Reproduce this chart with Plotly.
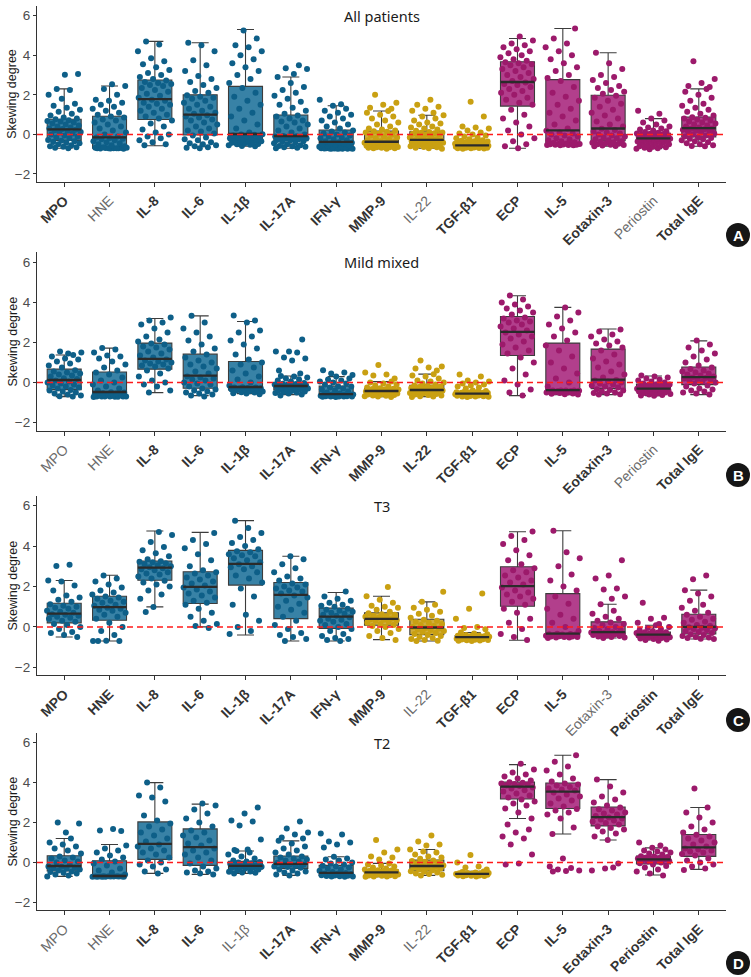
import plotly.graph_objects as go

CATS = ["MPO", "HNE", "IL-8", "IL-6", "IL-1β", "IL-17A", "IFN-γ", "MMP-9",
        "IL-22", "TGF-β1", "ECP", "IL-5", "Eotaxin-3", "Periostin", "Total IgE"]
GROUP = ["blue"] * 7 + ["gold"] * 3 + ["magenta"] * 5
PANEL_TITLES = ["All patients", "Mild mixed", "T3", "T2"]
PANEL_LETTERS = ["A", "B", "C", "D"]

BOLD_A = [1, 0, 1, 1, 1, 1, 1, 1, 0, 1, 1, 1, 1, 0, 1]
BOLD_B = [0, 0, 1, 1, 1, 1, 1, 1, 1, 1, 1, 1, 1, 0, 1]
BOLD_C = [1, 1, 1, 1, 1, 1, 1, 1, 0, 1, 1, 1, 0, 1, 1]
BOLD_D = [0, 0, 1, 1, 0, 1, 1, 1, 0, 1, 1, 1, 1, 1, 1]

# ---- box statistics ----
Q1_A = [-0.3, -0.7, 0.75, -0.03, -0.32, -0.32, -0.72, -0.58, -0.45, -0.62, 1.43, -0.45, -0.32, -0.42, -0.13]
MED_A = [0.25, -0.15, 1.78, 1.0, 0.02, -0.08, -0.38, -0.37, -0.28, -0.55, 2.65, 0.2, 0.3, -0.2, 0.32]
Q3_A = [0.77, 0.92, 2.75, 2.0, 2.43, 0.98, 0.22, 0.17, 0.13, -0.45, 3.67, 2.77, 1.98, 0.05, 0.88]
LO_A = [-0.7, -0.7, -0.57, -0.62, -0.6, -0.7, -0.72, -0.72, -0.7, -0.72, -0.7, -0.55, -0.6, -0.72, -0.6]
HI_A = [2.3, 2.45, 4.7, 4.63, 5.3, 2.9, 1.45, 1.18, 0.97, -0.3, 4.85, 5.35, 4.13, 0.8, 2.3]

Q1_B = [-0.35, -0.68, 0.67, -0.28, -0.37, -0.37, -0.67, -0.57, -0.5, -0.63, 1.35, -0.45, -0.3, -0.45, -0.1]
MED_B = [0.13, -0.47, 1.18, 0.35, -0.22, -0.17, -0.58, -0.42, -0.37, -0.55, 2.53, -0.38, 0.15, -0.3, 0.27]
Q3_B = [0.67, 0.53, 1.97, 1.42, 1.05, -0.05, -0.17, -0.3, -0.13, -0.5, 3.3, 1.97, 1.67, -0.07, 0.78]
LO_B = [-0.7, -0.72, -0.5, -0.65, -0.55, -0.6, -0.72, -0.7, -0.7, -0.72, -0.65, -0.6, -0.6, -0.65, -0.6]
HI_B = [1.38, 1.72, 3.2, 3.33, 3.05, 0.33, 0.3, 0.05, 0.42, -0.4, 4.33, 3.75, 2.67, 0.33, 2.08]

Q1_C = [0.2, 0.33, 2.31, 1.16, 2.07, 0.41, -0.07, 0.08, -0.38, -0.6, 1.02, -0.45, -0.36, -0.5, -0.35]
MED_C = [0.66, 0.98, 2.93, 1.98, 3.12, 1.59, 0.51, 0.4, -0.03, -0.51, 2.02, -0.33, -0.26, -0.38, 0.0]
Q3_C = [1.17, 1.52, 3.26, 2.73, 3.79, 2.2, 0.93, 0.7, 0.38, -0.43, 2.98, 1.65, 0.25, -0.25, 0.63]
LO_C = [-0.5, -0.7, 0.99, 0.0, -0.4, -0.7, -0.7, -0.63, -0.7, -0.7, -0.66, -0.55, -0.55, -0.65, -0.6]
HI_C = [2.3, 2.56, 4.75, 4.68, 5.26, 3.5, 1.7, 1.52, 1.24, -0.28, 4.71, 4.76, 1.12, 0.08, 1.82]

Q1_D = [-0.43, -0.72, 0.15, -0.15, -0.33, -0.3, -0.65, -0.63, -0.42, -0.63, 3.18, 2.7, 1.83, -0.08, 0.3]
MED_D = [-0.18, -0.68, 0.93, 0.77, -0.17, -0.07, -0.52, -0.5, -0.18, -0.57, 3.8, 3.55, 2.27, 0.15, 0.75]
Q3_D = [0.33, 0.08, 2.03, 1.68, 0.05, 0.32, -0.15, -0.38, 0.12, -0.52, 4.03, 3.98, 2.78, 0.32, 1.4]
LO_D = [-0.7, -0.72, -0.55, -0.6, -0.55, -0.65, -0.72, -0.72, -0.65, -0.7, 2.2, 1.42, 1.12, -0.63, -0.35]
HI_D = [1.2, 0.9, 4.0, 2.92, 0.57, 1.08, 0.28, -0.05, 0.65, -0.45, 4.9, 5.37, 4.15, 0.73, 2.75]

# ---- individual (jittered) points, one string per category ----
PTS_A = [
    "-0.7 -0.68 -0.65 -0.62 -0.6 -0.55 -0.5 -0.45 -0.42 -0.38 -0.35 -0.32 -0.28 -0.2 -0.15 -0.1 -0.05 0.0 0.05 0.1 0.12 0.18 0.2 0.24 0.27 0.3 0.35 0.4 0.45 0.5 0.55 0.6 0.65 0.68 0.72 0.76 0.8 0.85 0.95 1.05 1.15 1.25 1.35 1.45 1.55 1.8 2.0 2.25 2.3 3.05 3.02",
    "-0.72 -0.71 -0.7 -0.7 -0.69 -0.68 -0.7 -0.71 -0.69 -0.7 -0.68 -0.7 -0.65 -0.6 -0.55 -0.5 -0.45 -0.4 -0.35 -0.3 -0.25 -0.22 -0.18 -0.16 -0.1 0.0 0.1 0.2 0.3 0.4 0.5 0.6 0.7 0.75 0.85 0.9 1.0 1.1 1.2 1.3 1.4 1.5 1.6 1.7 1.75 2.0 2.3 2.45 2.53",
    "-0.55 -0.5 -0.4 -0.3 -0.2 -0.1 0.0 0.1 0.25 0.4 0.55 0.7 0.8 0.9 1.0 1.1 1.2 1.3 1.4 1.5 1.55 1.6 1.7 1.75 1.85 1.95 2.05 2.15 2.25 2.35 2.45 2.5 2.55 2.6 2.65 2.72 2.8 2.9 3.0 3.1 3.25 3.4 3.55 3.7 3.85 4.2 4.55 4.7",
    "-0.7 -0.68 -0.65 -0.6 -0.55 -0.5 -0.45 -0.4 -0.3 -0.25 -0.15 -0.05 0.05 0.15 0.2 0.3 0.4 0.5 0.6 0.7 0.75 0.85 0.9 0.97 1.05 1.1 1.2 1.3 1.4 1.5 1.6 1.7 1.8 1.85 1.9 1.98 2.1 2.2 2.35 2.5 2.65 2.8 2.95 3.2 3.5 3.75 4.2 4.5 4.63",
    "-0.6 -0.58 -0.55 -0.52 -0.5 -0.48 -0.45 -0.42 -0.4 -0.38 -0.35 -0.33 -0.3 -0.28 -0.25 -0.2 -0.18 -0.15 -0.12 -0.1 -0.05 -0.02 0.0 0.01 0.1 0.3 0.5 0.7 0.9 1.1 1.3 1.5 1.7 1.9 2.1 2.35 2.6 2.8 3.0 3.2 3.4 3.6 3.8 4.0 4.2 4.4 4.5 4.85 5.25",
    "-0.7 -0.68 -0.65 -0.62 -0.6 -0.58 -0.55 -0.5 -0.45 -0.42 -0.38 -0.34 -0.3 -0.28 -0.25 -0.22 -0.2 -0.18 -0.15 -0.13 -0.12 -0.1 -0.09 -0.08 0.0 0.1 0.2 0.3 0.4 0.5 0.6 0.65 0.7 0.8 0.9 0.95 1.05 1.2 1.35 1.5 1.65 1.8 1.95 2.1 2.25 2.4 2.6 2.9 3.5 3.35 3.3 3.05",
    "-0.72 -0.72 -0.71 -0.7 -0.72 -0.71 -0.7 -0.72 -0.71 -0.7 -0.72 -0.71 -0.68 -0.65 -0.62 -0.6 -0.57 -0.55 -0.52 -0.5 -0.47 -0.45 -0.42 -0.4 -0.35 -0.3 -0.25 -0.2 -0.15 -0.1 -0.05 0.0 0.05 0.1 0.15 0.2 0.3 0.4 0.5 0.6 0.7 0.8 0.9 1.0 1.1 1.2 1.3 1.45 1.75 1.52",
    "-0.72 -0.7 -0.7 -0.68 -0.67 -0.65 -0.65 -0.63 -0.62 -0.61 -0.6 -0.59 -0.57 -0.55 -0.53 -0.51 -0.5 -0.48 -0.46 -0.44 -0.42 -0.4 -0.39 -0.38 -0.35 -0.3 -0.25 -0.2 -0.15 -0.1 -0.05 0.0 0.05 0.1 0.13 0.16 0.2 0.25 0.3 0.4 0.5 0.6 0.7 0.8 0.9 1.0 1.1 1.18 2.0 1.6 1.5 1.35 1.3",
    "-0.72 -0.7 -0.68 -0.65 -0.63 -0.6 -0.58 -0.55 -0.52 -0.5 -0.48 -0.46 -0.44 -0.42 -0.4 -0.38 -0.37 -0.35 -0.34 -0.33 -0.32 -0.31 -0.3 -0.29 -0.25 -0.2 -0.15 -0.1 -0.05 -0.02 0.0 0.03 0.06 0.08 0.1 0.12 0.18 0.25 0.3 0.35 0.4 0.5 0.55 0.6 0.7 0.8 0.9 0.97 1.75 1.5 1.4 1.3 1.2 1.1",
    "-0.72 -0.71 -0.7 -0.7 -0.69 -0.68 -0.67 -0.66 -0.65 -0.64 -0.63 -0.62 -0.61 -0.6 -0.6 -0.59 -0.59 -0.58 -0.58 -0.57 -0.57 -0.56 -0.56 -0.55 -0.54 -0.53 -0.52 -0.51 -0.5 -0.5 -0.49 -0.48 -0.47 -0.47 -0.46 -0.45 -0.44 -0.42 -0.4 -0.38 -0.36 -0.34 -0.32 -0.3 -0.25 -0.2 -0.15 -0.1 -0.05 0.0 0.05 0.1 0.2 0.3 0.35 0.4 0.9 1.65",
    "-0.7 -0.6 -0.5 -0.35 -0.2 0.0 0.2 0.4 0.6 0.8 1.0 1.25 1.5 1.6 1.75 1.85 2.0 2.1 2.2 2.3 2.4 2.5 2.55 2.62 2.7 2.8 2.9 3.0 3.1 3.2 3.3 3.4 3.5 3.55 3.6 3.65 3.72 3.8 3.9 4.0 4.1 4.2 4.3 4.4 4.5 4.6 4.75 4.95",
    "-0.55 -0.55 -0.54 -0.53 -0.52 -0.52 -0.51 -0.5 -0.5 -0.49 -0.48 -0.46 -0.43 -0.4 -0.35 -0.3 -0.25 -0.2 -0.1 -0.05 0.0 0.05 0.1 0.18 0.3 0.5 0.7 0.9 1.1 1.3 1.5 1.7 1.9 2.1 2.4 2.7 2.85 3.0 3.2 3.4 3.6 3.8 4.0 4.2 4.4 4.6 4.85 5.35",
    "-0.6 -0.58 -0.56 -0.54 -0.52 -0.5 -0.47 -0.45 -0.42 -0.4 -0.37 -0.34 -0.3 -0.25 -0.2 -0.15 -0.1 -0.05 0.0 0.05 0.1 0.15 0.22 0.28 0.4 0.5 0.65 0.8 0.95 1.1 1.25 1.4 1.55 1.7 1.85 1.95 2.05 2.15 2.25 2.35 2.45 2.6 2.75 2.9 3.0 3.3 3.6 4.13",
    "-0.75 -0.72 -0.7 -0.68 -0.65 -0.62 -0.6 -0.57 -0.55 -0.5 -0.47 -0.44 -0.4 -0.38 -0.36 -0.34 -0.32 -0.3 -0.28 -0.26 -0.25 -0.23 -0.22 -0.21 -0.18 -0.15 -0.13 -0.1 -0.08 -0.06 -0.04 -0.02 0.0 0.02 0.03 0.04 0.08 0.12 0.16 0.2 0.25 0.3 0.35 0.4 0.5 0.6 0.7 0.8 1.2 1.05",
    "-0.6 -0.58 -0.55 -0.5 -0.45 -0.4 -0.35 -0.3 -0.25 -0.22 -0.18 -0.15 -0.1 -0.05 0.0 0.05 0.1 0.15 0.18 0.2 0.23 0.26 0.28 0.3 0.35 0.4 0.45 0.5 0.55 0.6 0.65 0.7 0.75 0.8 0.84 0.87 0.95 1.05 1.15 1.25 1.35 1.45 1.55 1.7 1.85 2.0 2.15 2.3 3.7 2.8 2.6 2.45 2.4",
]

PTS_B = [
    "-0.7 -0.68 -0.65 -0.6 -0.55 -0.5 -0.45 -0.4 -0.37 -0.3 -0.25 -0.2 -0.15 -0.1 -0.05 0.0 0.05 0.1 0.18 0.22 0.3 0.35 0.4 0.45 0.5 0.55 0.62 0.75 0.85 0.95 1.05 1.15 1.2 1.3 1.38 1.55 1.5 1.45",
    "-0.72 -0.71 -0.7 -0.7 -0.69 -0.7 -0.71 -0.7 -0.69 -0.66 -0.64 -0.62 -0.6 -0.58 -0.55 -0.53 -0.5 -0.48 -0.4 -0.3 -0.2 -0.1 0.0 0.1 0.25 0.4 0.5 0.6 0.75 0.9 1.05 1.2 1.3 1.35 1.5 1.65 1.72",
    "-0.5 -0.4 -0.2 -0.1 0.0 0.1 0.3 0.45 0.6 0.7 0.8 0.85 0.9 0.95 1.0 1.05 1.1 1.15 1.25 1.35 1.45 1.55 1.65 1.75 1.8 1.9 1.95 2.05 2.15 2.3 2.5 2.7 2.9 3.0 3.1 3.25",
    "-0.7 -0.65 -0.6 -0.55 -0.5 -0.45 -0.4 -0.35 -0.3 -0.2 -0.1 -0.05 0.0 0.1 0.15 0.2 0.25 0.3 0.45 0.55 0.7 0.8 0.9 1.0 1.1 1.25 1.4 1.55 1.7 1.9 2.1 2.3 2.5 2.7 3.0 3.33",
    "-0.58 -0.55 -0.53 -0.5 -0.48 -0.45 -0.43 -0.4 -0.38 -0.35 -0.33 -0.31 -0.3 -0.28 -0.27 -0.25 -0.24 -0.23 -0.15 0.0 0.15 0.3 0.45 0.6 0.75 0.9 1.0 1.15 1.4 1.7 1.9 2.1 2.3 2.5 2.6 3.0 3.35 3.1",
    "-0.65 -0.6 -0.55 -0.52 -0.5 -0.47 -0.45 -0.42 -0.4 -0.35 -0.32 -0.3 -0.28 -0.26 -0.24 -0.22 -0.2 -0.18 -0.16 -0.15 -0.14 -0.13 -0.12 -0.1 -0.09 -0.07 -0.06 -0.02 0.05 0.1 0.15 0.2 0.25 0.3 0.33 2.15 1.55 1.55 1.5 1.25 1.2 1.1 0.6 0.45",
    "-0.72 -0.71 -0.7 -0.7 -0.69 -0.69 -0.68 -0.68 -0.67 -0.66 -0.65 -0.64 -0.63 -0.62 -0.61 -0.6 -0.6 -0.59 -0.55 -0.5 -0.45 -0.4 -0.35 -0.3 -0.25 -0.2 -0.18 -0.1 -0.05 0.0 0.05 0.1 0.15 0.2 0.3 0.62 0.5 0.45 0.38",
    "-0.72 -0.7 -0.68 -0.66 -0.64 -0.62 -0.6 -0.59 -0.58 -0.56 -0.54 -0.52 -0.5 -0.48 -0.46 -0.45 -0.44 -0.43 -0.41 -0.4 -0.38 -0.37 -0.36 -0.35 -0.33 -0.32 -0.31 -0.28 -0.25 -0.2 -0.15 -0.1 -0.05 0.0 0.05 0.88 0.5 0.4 0.35 0.2",
    "-0.72 -0.7 -0.68 -0.65 -0.62 -0.6 -0.57 -0.55 -0.52 -0.49 -0.47 -0.45 -0.44 -0.42 -0.41 -0.4 -0.39 -0.38 -0.35 -0.32 -0.3 -0.27 -0.25 -0.22 -0.2 -0.17 -0.15 -0.1 -0.05 0.0 0.05 0.1 0.2 0.3 0.35 0.42 1.1 0.8 0.75 0.7 0.6",
    "-0.72 -0.71 -0.7 -0.69 -0.68 -0.67 -0.66 -0.65 -0.64 -0.62 -0.61 -0.6 -0.59 -0.58 -0.58 -0.57 -0.56 -0.56 -0.54 -0.54 -0.53 -0.53 -0.52 -0.52 -0.51 -0.51 -0.5 -0.48 -0.46 -0.44 -0.42 -0.4 0.4 0.3 0.1 0.05 0.0 -0.05 -0.1 -0.15 -0.2 -0.25 -0.3",
    "-0.65 -0.5 -0.35 -0.1 0.1 0.4 0.7 1.0 1.25 1.45 1.6 1.75 1.9 2.05 2.2 2.3 2.4 2.5 2.6 2.7 2.8 2.9 3.0 3.05 3.1 3.2 3.25 3.4 3.5 3.6 3.7 3.8 3.9 4.0 4.15 4.35",
    "-0.6 -0.58 -0.56 -0.54 -0.52 -0.5 -0.49 -0.48 -0.46 -0.44 -0.43 -0.42 -0.42 -0.41 -0.4 -0.4 -0.39 -0.39 -0.2 0.0 0.2 0.45 0.7 1.0 1.3 1.6 1.85 2.1 2.3 2.5 2.7 2.9 3.1 3.3 3.5 3.75",
    "-0.6 -0.58 -0.55 -0.52 -0.5 -0.45 -0.4 -0.37 -0.33 -0.25 -0.2 -0.15 -0.1 -0.05 0.0 0.05 0.1 0.13 0.25 0.4 0.55 0.75 0.9 1.05 1.2 1.4 1.6 1.75 1.85 1.95 2.05 2.15 2.3 2.4 2.55 2.65",
    "-0.66 -0.64 -0.62 -0.6 -0.57 -0.55 -0.52 -0.5 -0.47 -0.44 -0.42 -0.4 -0.38 -0.36 -0.35 -0.34 -0.32 -0.31 -0.28 -0.25 -0.22 -0.2 -0.17 -0.15 -0.12 -0.1 -0.08 -0.04 0.0 0.05 0.1 0.15 0.2 0.25 0.3 0.35",
    "-0.6 -0.55 -0.5 -0.45 -0.4 -0.35 -0.3 -0.2 -0.15 -0.05 0.0 0.05 0.1 0.15 0.18 0.2 0.23 0.25 0.3 0.35 0.4 0.45 0.5 0.55 0.6 0.68 0.75 0.85 1.0 1.15 1.3 1.45 1.6 1.75 1.9 2.1",
]

PTS_C = [
    "-0.5 -0.4 -0.3 -0.25 -0.1 0.0 0.1 0.15 0.25 0.3 0.4 0.45 0.5 0.55 0.6 0.63 0.7 0.75 0.8 0.9 0.95 1.0 1.05 1.12 1.25 1.35 1.45 1.55 1.8 2.05 2.25 2.3 3.08 3.02",
    "-0.7 -0.7 -0.68 -0.7 -0.4 -0.2 0.0 0.2 0.4 0.5 0.6 0.7 0.8 0.85 0.9 0.95 1.05 1.1 1.2 1.25 1.3 1.4 1.45 1.5 1.6 1.7 1.8 1.95 2.1 2.25 2.4 2.55",
    "0.99 1.4 1.6 1.8 2.0 2.1 2.2 2.28 2.4 2.5 2.6 2.65 2.7 2.8 2.85 2.9 2.95 3.0 3.05 3.1 3.15 3.2 3.22 3.25 3.35 3.5 3.65 3.8 3.95 4.2 4.55 4.7 0.74",
    "-0.05 0.05 0.15 0.3 0.5 0.7 0.9 1.1 1.2 1.3 1.45 1.55 1.65 1.75 1.85 1.95 2.05 2.15 2.25 2.35 2.45 2.55 2.65 2.7 2.8 3.0 3.3 3.6 3.9 4.1 4.3 4.65",
    "-0.35 -0.2 0.0 0.3 0.6 1.1 1.5 1.9 2.2 2.4 2.55 2.7 2.85 2.95 3.0 3.1 3.2 3.3 3.4 3.5 3.55 3.6 3.7 3.75 3.85 4.0 4.15 4.3 4.45 4.65 4.9 5.25",
    "-0.7 -0.6 -0.5 -0.4 -0.3 -0.1 0.1 0.3 0.5 0.7 0.85 1.0 1.15 1.3 1.45 1.55 1.65 1.75 1.8 1.9 1.95 2.0 2.1 2.15 2.3 2.4 2.5 2.7 2.9 3.1 3.35 3.5",
    "-0.7 -0.65 -0.6 -0.55 -0.45 -0.35 -0.2 -0.1 0.0 0.1 0.15 0.25 0.3 0.35 0.4 0.48 0.55 0.6 0.65 0.7 0.75 0.8 0.85 0.9 1.0 1.05 1.1 1.2 1.3 1.4 1.5 1.75",
    "-0.65 -0.55 -0.45 -0.3 -0.2 -0.1 0.0 0.05 0.1 0.15 0.2 0.25 0.3 0.33 0.36 0.38 0.42 0.45 0.5 0.52 0.55 0.6 0.63 0.68 0.75 0.85 0.95 1.0 1.05 1.2 1.35 1.52 1.98",
    "-0.7 -0.68 -0.65 -0.6 -0.55 -0.5 -0.45 -0.4 -0.35 -0.3 -0.25 -0.2 -0.15 -0.12 -0.08 -0.05 0.0 0.05 0.1 0.15 0.2 0.25 0.3 0.35 0.45 0.55 0.65 0.75 0.85 0.95 1.1 1.24 1.74",
    "-0.7 -0.68 -0.67 -0.66 -0.65 -0.64 -0.62 -0.61 -0.59 -0.58 -0.57 -0.56 -0.55 -0.54 -0.53 -0.52 -0.5 -0.49 -0.48 -0.47 -0.46 -0.45 -0.44 -0.43 -0.4 -0.36 -0.32 -0.28 1.65 0.9 0.41 0.0 -0.05 -0.12",
    "-0.65 -0.5 -0.35 -0.1 0.2 0.4 0.7 0.9 1.1 1.25 1.4 1.5 1.6 1.7 1.8 1.95 2.1 2.2 2.3 2.45 2.55 2.7 2.8 2.9 3.1 3.3 3.55 3.8 4.1 4.3 4.5 4.72",
    "-0.55 -0.53 -0.52 -0.5 -0.5 -0.48 -0.47 -0.46 -0.44 -0.42 -0.4 -0.38 -0.37 -0.36 -0.35 -0.34 -0.2 0.0 0.2 0.4 0.6 0.9 1.15 1.5 1.8 2.0 2.3 2.6 3.0 3.4 3.7 4.76",
    "-0.55 -0.52 -0.5 -0.48 -0.45 -0.42 -0.4 -0.37 -0.35 -0.34 -0.33 -0.32 -0.3 -0.29 -0.28 -0.27 -0.2 -0.15 -0.1 -0.05 0.0 0.08 0.15 0.22 0.3 0.4 0.5 0.65 0.8 1.12 3.3 2.55 2.4 1.9 1.85 1.5 1.4",
    "-0.68 -0.65 -0.62 -0.6 -0.57 -0.55 -0.53 -0.51 -0.49 -0.47 -0.45 -0.43 -0.42 -0.41 -0.4 -0.39 -0.37 -0.35 -0.33 -0.32 -0.3 -0.28 -0.27 -0.26 -0.2 -0.15 -0.1 -0.05 0.0 0.08 1.19 0.45 0.4 0.2 0.15",
    "-0.6 -0.58 -0.55 -0.52 -0.5 -0.45 -0.4 -0.37 -0.3 -0.25 -0.2 -0.15 -0.1 -0.07 -0.04 -0.02 0.05 0.1 0.2 0.25 0.35 0.4 0.5 0.6 0.7 0.8 0.95 1.1 1.3 1.5 1.65 1.82 2.55 2.36",
]

PTS_D = [
    "-0.7 -0.65 -0.6 -0.55 -0.52 -0.48 -0.45 -0.4 -0.35 -0.3 -0.28 -0.25 -0.22 -0.2 -0.1 0.0 0.05 0.1 0.2 0.25 0.3 0.45 0.6 0.7 0.8 0.9 1.0 1.2 2.0 1.95 1.5",
    "-0.72 -0.72 -0.71 -0.72 -0.71 -0.72 -0.72 -0.71 -0.7 -0.7 -0.69 -0.7 -0.69 -0.69 -0.6 -0.5 -0.4 -0.3 -0.15 -0.05 0.05 0.15 0.25 0.35 0.5 0.6 0.7 0.85 1.67 1.6 1.57",
    "-0.55 -0.45 -0.35 -0.2 -0.1 0.0 0.1 0.25 0.4 0.5 0.6 0.7 0.8 0.9 1.05 1.2 1.35 1.5 1.65 1.8 1.95 2.1 2.35 3.05 3.25 3.35 3.75 4.0",
    "-0.6 -0.55 -0.5 -0.45 -0.4 -0.3 -0.2 -0.05 0.1 0.25 0.4 0.5 0.6 0.7 0.85 0.95 1.1 1.25 1.35 1.5 1.6 1.8 2.0 2.2 2.45 2.65 2.85 2.95",
    "-0.55 -0.52 -0.5 -0.47 -0.45 -0.4 -0.36 -0.3 -0.28 -0.26 -0.24 -0.22 -0.2 -0.18 -0.14 -0.1 -0.07 -0.04 -0.01 0.02 0.04 0.1 0.2 0.3 0.4 0.5 0.57 2.75 2.45 2.1 2.05 1.85 1.15 0.65 0.62",
    "-0.65 -0.6 -0.55 -0.5 -0.45 -0.4 -0.35 -0.27 -0.23 -0.2 -0.17 -0.14 -0.11 -0.09 -0.02 0.05 0.1 0.15 0.2 0.25 0.3 0.4 0.5 0.6 0.7 0.8 0.95 1.08 2.05 1.7 1.5 1.4 1.25 1.2",
    "-0.72 -0.71 -0.7 -0.69 -0.68 -0.67 -0.66 -0.64 -0.62 -0.6 -0.58 -0.56 -0.55 -0.53 -0.48 -0.42 -0.36 -0.3 -0.25 -0.2 -0.17 -0.1 -0.05 0.0 0.1 0.15 0.2 0.28 1.45 1.4 1.05 1.0 0.9 0.75",
    "-0.72 -0.71 -0.7 -0.69 -0.67 -0.66 -0.64 -0.62 -0.6 -0.58 -0.56 -0.55 -0.53 -0.51 -0.48 -0.46 -0.45 -0.43 -0.42 -0.4 -0.39 -0.35 -0.3 -0.25 -0.2 -0.15 -0.1 -0.05 1.12 0.65 0.5 0.3 0.25 0.15",
    "-0.65 -0.62 -0.58 -0.55 -0.5 -0.47 -0.44 -0.4 -0.35 -0.32 -0.28 -0.25 -0.22 -0.2 -0.15 -0.1 -0.05 0.0 0.03 0.07 0.1 0.18 0.25 0.3 0.4 0.5 0.55 0.65 1.35 1.05 0.9 0.85",
    "-0.7 -0.69 -0.68 -0.67 -0.66 -0.65 -0.64 -0.62 -0.61 -0.6 -0.6 -0.59 -0.58 -0.58 -0.56 -0.56 -0.55 -0.54 -0.54 -0.53 -0.53 -0.5 -0.48 -0.46 0.37 0.0 -0.2 -0.25 -0.35",
    "2.2 2.5 2.7 2.85 2.95 3.05 3.15 3.25 3.35 3.45 3.55 3.62 3.7 3.76 3.83 3.86 3.9 3.93 3.96 3.99 4.02 4.1 4.2 4.3 4.4 4.5 4.65 4.95 1.9 1.65 1.5 1.3 1.2 0.9 0.4 -0.05 -0.1",
    "1.42 1.75 2.2 2.4 2.5 2.6 2.68 2.8 2.95 3.1 3.2 3.3 3.4 3.5 3.6 3.65 3.7 3.78 3.85 3.9 3.95 4.05 4.2 4.4 4.6 4.8 5.05 5.37 0.2 -0.2 -0.28 -0.35 -0.4 -0.43 -0.45",
    "1.12 1.3 1.45 1.55 1.65 1.72 1.8 1.9 1.98 2.05 2.1 2.15 2.2 2.25 2.32 2.4 2.45 2.5 2.6 2.67 2.75 2.85 3.0 3.15 3.3 3.5 3.8 4.15 -0.05 -0.3 -0.4 -0.25",
    "-0.65 -0.55 -0.45 -0.35 -0.25 -0.18 -0.1 -0.04 0.0 0.04 0.07 0.1 0.12 0.14 0.17 0.2 0.22 0.25 0.27 0.29 0.31 0.4 0.45 0.5 0.55 0.6 0.65 0.73 1.0 0.85",
    "-0.38 -0.3 -0.2 -0.1 0.0 0.1 0.2 0.35 0.42 0.5 0.55 0.6 0.65 0.7 0.8 0.9 1.0 1.1 1.2 1.3 1.38 1.5 1.65 1.8 2.0 2.25 2.5 2.75 3.7",
]

PANELS = [
    (PTS_A, Q1_A, MED_A, Q3_A, LO_A, HI_A, BOLD_A),
    (PTS_B, Q1_B, MED_B, Q3_B, LO_B, HI_B, BOLD_B),
    (PTS_C, Q1_C, MED_C, Q3_C, LO_C, HI_C, BOLD_C),
    (PTS_D, Q1_D, MED_D, Q3_D, LO_D, HI_D, BOLD_D),
]

# ---- styling ----
W, H = 751, 977
PT_COLOR = {"blue": "#0e5f88", "gold": "#c9a012", "magenta": "#9c1a6b"}
BOX_FILL = {"blue": "rgba(34,116,156,0.9)", "gold": "rgba(203,164,40,0.9)",
            "magenta": "rgba(170,42,128,0.9)"}
X_LEFT, X_RIGHT = 37, 726
PANEL_PX = [(5.8, 181.9), (252.3, 430.7), (495.6, 675.4), (732.7, 910.3)]
LETTER_PX = [235, 475, 720, 963]
YRANGE = [-2.4, 6.5]
BOX_W = 0.75
FONT = "Liberation Sans, Arial, sans-serif"

fig = go.Figure()
shapes = []
annotations = []
layout_axes = {}

for p, (pts, q1, med, q3, lo, hi, bold) in enumerate(PANELS):
    sfx = "" if p == 0 else str(p + 1)
    xa, ya = "x" + sfx, "y" + sfx

    # jittered points
    for g in ["blue", "gold", "magenta"]:
        xs, ys = [], []
        for i, c in enumerate(CATS):
            if GROUP[i] != g:
                continue
            vals = [float(v) for v in pts[i].split()]
            for k, v in enumerate(vals):
                off = ((k + 1) * 0.6180339887 + i * 0.29 + p * 0.13) % 1.0
                xs.append(i + (off - 0.5) * 0.76)
                ys.append(v)
        fig.add_trace(go.Scatter(x=xs, y=ys, mode="markers", xaxis=xa, yaxis=ya,
                                 marker=dict(size=6, color=PT_COLOR[g], line=dict(width=0)),
                                 showlegend=False, hoverinfo="skip"))

    # boxes
    for g in ["blue", "gold", "magenta"]:
        idx = [i for i in range(len(CATS)) if GROUP[i] == g]
        fig.add_trace(go.Box(
            x=idx, q1=[q1[i] for i in idx], median=[med[i] for i in idx],
            q3=[q3[i] for i in idx], lowerfence=[lo[i] for i in idx],
            upperfence=[hi[i] for i in idx], width=BOX_W,
            fillcolor=BOX_FILL[g], line=dict(color="#3c3c3c", width=1.1),
            boxpoints=False, xaxis=xa, yaxis=ya, showlegend=False, hoverinfo="skip"))

    # thicker median bars (ggplot style)
    mx, my = [], []
    for i in range(len(CATS)):
        mx += [i - BOX_W / 2, i + BOX_W / 2, None]
        my += [med[i], med[i], None]
    fig.add_trace(go.Scatter(x=mx, y=my, mode="lines", xaxis=xa, yaxis=ya,
                             line=dict(color="#2b2b2b", width=2.3),
                             showlegend=False, hoverinfo="skip"))

    top, bot = PANEL_PX[p]
    ticktext = []
    for i, c in enumerate(CATS):
        if bold[i]:
            ticktext.append("<b>%s</b>" % c)
        else:
            ticktext.append("<span style='color:#6a6a6a'>%s</span>" % c)

    layout_axes["xaxis" + sfx] = dict(
        domain=[X_LEFT / W, X_RIGHT / W], range=[-0.6, 14.6], anchor=ya,
        tickmode="array", tickvals=list(range(len(CATS))), ticktext=ticktext,
        tickangle=-45, tickfont=dict(family=FONT, size=14, color="#333333"),
        showline=True, linecolor="#333333", linewidth=1.1, ticks="outside",
        ticklen=4, tickcolor="#333333", showgrid=False, zeroline=False,
        fixedrange=True, automargin=False)
    layout_axes["yaxis" + sfx] = dict(
        domain=[1 - bot / H, 1 - top / H], range=YRANGE, anchor=xa,
        tickmode="array", tickvals=[-2, 0, 2, 4, 6],
        tickfont=dict(family=FONT, size=13.5, color="#4d4d4d"),
        showline=True, linecolor="#333333", linewidth=1.1, ticks="outside",
        ticklen=3, tickcolor="#333333", showgrid=False, zeroline=False,
        fixedrange=True, automargin=False)

    # red dashed reference line at 0
    shapes.append(dict(type="line", xref=xa + " domain", yref=ya, x0=0, x1=1,
                       y0=0, y1=0, line=dict(color="#ff1a1a", width=1.5, dash="6px,4px")))

    # panel title
    annotations.append(dict(text=PANEL_TITLES[p], xref=xa, yref=ya, x=7, y=6,
                            showarrow=False, xanchor="center", yanchor="middle",
                            font=dict(family="Noto Sans, sans-serif", size=14.5, color="#1a1a1a")))
    # y-axis title
    annotations.append(dict(text="Skewing degree", xref="paper", yref=ya + " domain",
                            x=12 / W, y=0.5, textangle=-90, showarrow=False,
                            xanchor="center", yanchor="middle",
                            font=dict(family=FONT, size=12.5, color="#1a1a1a")))
    # panel letter in a black circle
    cy = LETTER_PX[p]
    cx = 738
    r = 12
    shapes.append(dict(type="circle", xref="paper", yref="paper",
                       x0=(cx - r) / W, x1=(cx + r) / W,
                       y0=1 - (cy + r) / H, y1=1 - (cy - r) / H,
                       fillcolor="#161616", line=dict(width=0)))
    annotations.append(dict(text="<b>%s</b>" % PANEL_LETTERS[p], xref="paper", yref="paper",
                            x=cx / W, y=1 - cy / H, showarrow=False,
                            xanchor="center", yanchor="middle",
                            font=dict(family=FONT, size=15, color="white")))

fig.update_layout(
    width=W, height=H, autosize=False,
    margin=dict(l=0, r=0, t=0, b=0),
    paper_bgcolor="white", plot_bgcolor="white",
    showlegend=False, boxmode="overlay",
    shapes=shapes, annotations=annotations,
    **layout_axes,
)

fig.write_html("out.html",
               config={"displayModeBar": False},
               post_script="document.body.style.margin='0';document.body.style.overflow='hidden';")
